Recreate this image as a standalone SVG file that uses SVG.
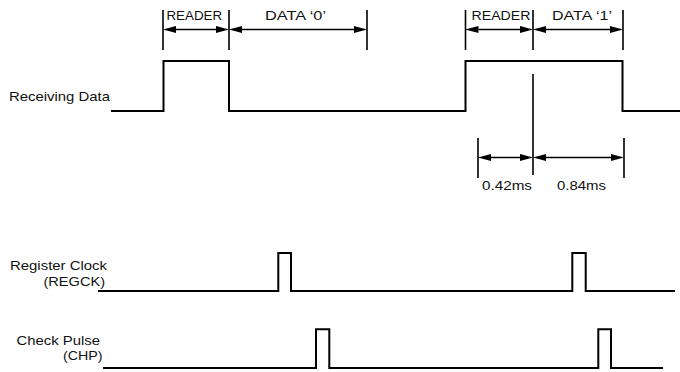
<svg xmlns="http://www.w3.org/2000/svg" width="680" height="372" viewBox="0 0 680 372">
  <style>
    .wave { fill: none; stroke: #000; stroke-width: 2; stroke-linejoin: miter; }
    .tick { fill: none; stroke: #000; stroke-width: 1.6; }
    .dim { fill: none; stroke: #000; stroke-width: 1.5; }
    .lbl { font-family: "Liberation Sans", Arial, sans-serif; font-size: 13.5px; fill: #111; }
  </style>
  <defs>
    <marker id="ah" viewBox="0 0 13 7" refX="0" refY="3.5" markerWidth="13" markerHeight="7" markerUnits="userSpaceOnUse" orient="auto-start-reverse">
      <path d="M13,3.5 L0,0 L0,7 Z" fill="#000"/>
    </marker>
  </defs>
  <rect width="680" height="372" fill="#fff"/>

  <g id="receiving-data">
    <text class="lbl" x="9" y="100.5" textLength="101" lengthAdjust="spacingAndGlyphs">Receiving Data</text>
    <path class="wave" d="M111,111 H163.5 V61 H229 V111 H465.5 V61 H622.5 V111 H680"/>
  </g>

  <g id="register-clock">
    <text class="lbl" x="10" y="270" textLength="97" lengthAdjust="spacingAndGlyphs">Register Clock</text>
    <text class="lbl" x="43.5" y="286" textLength="61.5" lengthAdjust="spacingAndGlyphs">(REGCK)</text>
    <path class="wave" d="M98,291 H278.3 V253 H291 V291 H572.3 V253 H585.7 V291 H675"/>
  </g>

  <g id="check-pulse">
    <text class="lbl" x="16.5" y="345" textLength="83.5" lengthAdjust="spacingAndGlyphs">Check Pulse</text>
    <text class="lbl" x="63" y="360" textLength="39.5" lengthAdjust="spacingAndGlyphs">(CHP)</text>
    <path class="wave" d="M103,368 H316 V329.3 H329.3 V368 H598.3 V329.3 H611 V368 H663"/>
  </g>

  <g id="connectors">
    <path class="tick" d="M163,10 V50 M229,10 V50 M367,10 V50 M465.5,10 V50 M533,10 V50 M623,10 V50"/>
    <line class="dim" x1="176" y1="29.5" x2="216" y2="29.5" marker-start="url(#ah)" marker-end="url(#ah)"/>
    <line class="dim" x1="242" y1="29.5" x2="354" y2="29.5" marker-start="url(#ah)" marker-end="url(#ah)"/>
    <line class="dim" x1="478.5" y1="29.5" x2="520" y2="29.5" marker-start="url(#ah)" marker-end="url(#ah)"/>
    <line class="dim" x1="546" y1="29.5" x2="610" y2="29.5" marker-start="url(#ah)" marker-end="url(#ah)"/>
    <path class="tick" d="M533,74 V175"/>
    <path class="tick" d="M478,138 V178 M624,138 V178"/>
    <line class="dim" x1="491" y1="157.5" x2="520" y2="157.5" marker-start="url(#ah)" marker-end="url(#ah)"/>
    <line class="dim" x1="546" y1="157.5" x2="611" y2="157.5" marker-start="url(#ah)" marker-end="url(#ah)"/>
  </g>

  <g id="labels">
    <text class="lbl" x="166.5" y="19.5" textLength="55.5" lengthAdjust="spacingAndGlyphs">READER</text>
    <text class="lbl" x="265" y="19.5" textLength="61" lengthAdjust="spacingAndGlyphs">DATA ‘0’</text>
    <text class="lbl" x="471.5" y="19.5" textLength="59" lengthAdjust="spacingAndGlyphs">READER</text>
    <text class="lbl" x="552" y="19.5" textLength="60" lengthAdjust="spacingAndGlyphs">DATA ‘1’</text>
    <text class="lbl" x="482" y="189.5" textLength="50" lengthAdjust="spacingAndGlyphs">0.42ms</text>
    <text class="lbl" x="557" y="189.5" textLength="49" lengthAdjust="spacingAndGlyphs">0.84ms</text>
  </g>
</svg>
